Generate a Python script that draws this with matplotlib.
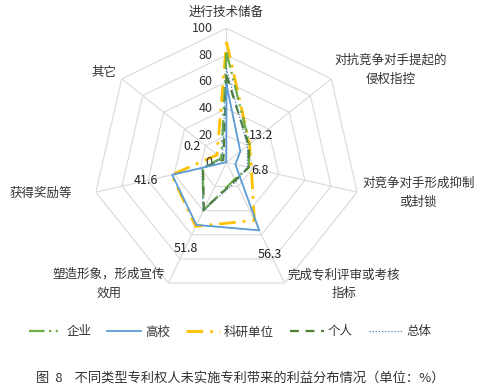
import numpy as np
import matplotlib
matplotlib.use('Agg')
import matplotlib.pyplot as plt

plt.rcParams['font.family'] = ['Noto Sans CJK SC', 'DejaVu Sans']

# categories around the radar, clockwise from the top
categories = ['进行技术储备', '对抗竞争对手提起的\n侵权指控', '对竞争对手形成抑制\n或封锁',
              '完成专利评审或考核\n指标', '塑造形象，形成宣传\n效用', '获得奖励等', '其它']

# values per patentee type (%)
qiye = [82, 22, 17, 14, 40, 18, 5]
gaoxiao = [58, 13.2, 6.8, 56.3, 51.8, 41.6, 0.2]
keyan = [90, 22, 19, 48, 53, 42, 9]
geren = [65, 21, 17, 15, 39, 18, 3]
zongti = [70, 20, 16, 16, 40, 19, 4]

# only the university series carries data labels (top one not shown)
label_series = gaoxiao
label_show = [False, True, True, True, True, True, True]

rings = [20, 40, 60, 80, 100]
ring_labels = ['0', '20', '40', '60', '80', '100']

fig = plt.figure(figsize=(4.85, 3.88), dpi=100)
ax = fig.add_axes([0.467 - 0.2763, 0.581 - 0.345, 0.5526, 0.691], projection='polar')
ax.set_theta_zero_location('N')
ax.set_theta_direction(-1)
ax.set_ylim(0, 100)
ax.grid(False)
ax.set_xticks([])
ax.set_yticks([])
ax.spines['polar'].set_visible(False)
ax.patch.set_alpha(0)

n = len(categories)
angles = np.arange(n) * 2 * np.pi / n
closed = np.append(angles, angles[0])

def close(vals):
    return list(vals) + [vals[0]]

# heptagon grid
grid_col = '#D9D9D9'
for v in rings:
    ax.plot(closed, [v] * (n + 1), color=grid_col, lw=0.8, zorder=1)
for a in angles:
    ax.plot([a, a], [0, 100], color=grid_col, lw=0.8, zorder=1)

# radial tick labels on the top spoke
for i, t in enumerate(ring_labels):
    ax.annotate(t, xy=(0, i * 20), xytext=(-14, 0), textcoords='offset pixels',
                ha='right', va='center', fontsize=9, color='#333333')

# series
ax.plot(closed, close(qiye), color='#70AD47', lw=1.6, dashes=(7, 2, 1, 2, 1, 2),
        label='企业', zorder=3)
ax.plot(closed, close(gaoxiao), color='#5B9BD5', lw=1.3, label='高校', zorder=4)
ax.plot(closed, close(keyan), color='#FFC000', lw=2.0, dashes=(6, 2.5, 1, 2.5),
        label='科研单位', zorder=2)
ax.plot(closed, close(geren), color='#4F7F2F', lw=1.6, dashes=(4, 3),
        label='个人', zorder=3)
ax.plot(closed, close(zongti), color='#4A7EBB', lw=0.9, dashes=(1, 1.5),
        label='总体', zorder=3)

# data labels, placed outside each point (pixel offsets)
label_offsets = [(0, 0), (21, 16), (25, -6), (11, -24), (-11, -24), (-26, -6), (-34, 16)]
for a, v, show, off in zip(angles, label_series, label_show, label_offsets):
    if not show:
        continue
    ax.annotate('{:g}'.format(v), xy=(a, v), xytext=off, textcoords='offset pixels',
                ha='center', va='center', fontsize=9, color='#222222', zorder=5)

# category labels
cat_offsets = [(0, 16), (3, 9), (5, -1), (3, -1), (-3, -1), (-24, -1), (-5, 6)]
cat_ha = ['center', 'left', 'left', 'left', 'right', 'right', 'right']
for a, c, off, ha in zip(angles, categories, cat_offsets, cat_ha):
    ax.annotate(c, xy=(a, 100), xytext=off, textcoords='offset pixels',
                ha=ha, va='center', multialignment='center', linespacing=1.6,
                fontsize=9, color='#333333', annotation_clip=False)

handles, labels = ax.get_legend_handles_labels()
fig.legend(handles, labels, loc='center', bbox_to_anchor=(230 / 485, 1 - 332 / 388),
           ncol=5, frameon=False, fontsize=9, handlelength=2.7, columnspacing=1.3,
           handletextpad=0.3, labelcolor='#333333')

fig.text(0.495, 1 - 378 / 388, '图  8    不同类型专利权人未实施专利带来的利益分布情况（单位：%）',
         ha='center', va='center', fontsize=9.5, color='#333333')

fig.savefig('out.png', dpi=100)
